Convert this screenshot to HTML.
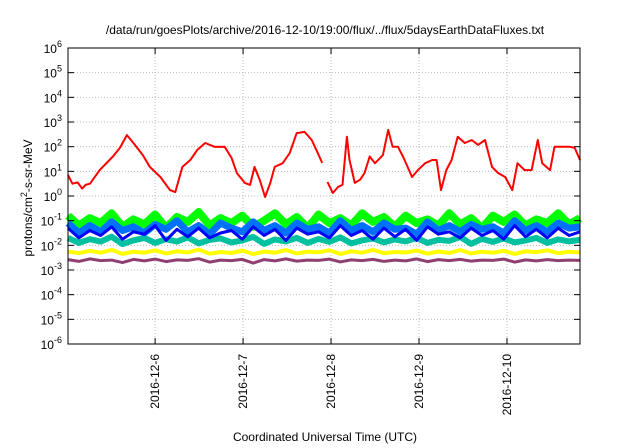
<!DOCTYPE html>
<html><head><meta charset="utf-8"><style>
body{margin:0;background:#fff}
svg{font-family:"Liberation Sans",sans-serif;display:block}
</style></head><body>
<svg id="chart" width="640" height="448">
<text x="325" y="34" font-size="12" text-anchor="middle" fill="#000">/data/run/goesPlots/archive/2016-12-10/19:00/flux/../flux/5daysEarthDataFluxes.txt</text>
<g id="grid"></g>
<g id="series"></g>
<rect x="68" y="48" width="512" height="296" fill="none" stroke="#000" stroke-width="1"/>
<g id="axes"></g>
<text transform="translate(32,198) rotate(-90)" font-size="12" text-anchor="middle">protons/cm<tspan dy="-5" font-size="9">2</tspan><tspan dy="5">-s-sr-MeV</tspan></text>
<text x="325" y="441" font-size="12" text-anchor="middle">Coordinated Universal Time (UTC)</text>
</svg>
<script>
const xTickDays=[1,2,3,4,5];
const xTickLabels=["2016-12-6","2016-12-7","2016-12-8","2016-12-9","2016-12-10"];
const yTickExps=[-6,-5,-4,-3,-2,-1,0,1,2,3,4,5,6];
const redDays=[0.01,0.06,0.12,0.17,0.21,0.26,0.37,0.52,0.60,0.68,0.77,0.86,0.94,1.06,1.17,1.23,1.31,1.40,1.48,1.57,1.68,1.79,1.87,1.93,2.02,2.08,2.13,2.19,2.25,2.31,2.36,2.45,2.53,2.61,2.70,2.78,2.85,2.90,null,2.96,3.02,3.08,3.13,3.18,3.21,3.27,3.33,3.38,3.44,3.50,3.59,3.65,3.70,3.76,3.82,3.87,3.92,3.99,4.07,4.15,4.20,4.25,4.31,4.37,4.44,4.52,4.60,4.67,4.75,4.83,4.90,4.98,5.06,5.12,5.20,5.28,5.35,5.40,5.49,5.54,5.62,5.71,5.77,5.83];
const redLog10=[0.85,0.5,0.55,0.3,0.45,0.5,1.05,1.6,1.95,2.47,2.07,1.66,1.18,0.77,0.24,0.16,1.18,1.46,1.87,2.15,1.99,2.0,1.54,0.93,0.53,0.45,1.18,0.65,-0.04,0.53,1.18,1.33,1.74,2.55,2.6,2.27,1.74,1.34,null,0.57,0.12,0.37,0.45,2.4,1.46,0.53,0.66,0.93,1.6,1.33,1.66,2.68,2.0,2.0,1.58,1.18,0.77,1.06,1.33,1.46,1.46,0.24,1.05,1.46,2.4,2.15,2.27,2.07,2.27,1.18,0.93,0.77,0.24,1.33,1.05,1.05,2.27,1.33,1.05,2.0,2.0,2.0,1.95,1.46];
const greenLog10=[-0.8,-1.2,-0.9,-1.1,-0.7,-1.25,-0.95,-1.15,-0.75,-1.3,-0.85,-1.05,-0.65,-1.2,-0.9,-1.1,-0.8,-1.25,-1.0,-0.7,-1.15,-0.85,-1.3,-0.75,-1.1,-0.9,-1.2,-0.7,-1.05,-0.85,-1.25,-0.8,-1.1,-0.95,-1.2,-0.7,-1.15,-0.9,-1.3,-0.8,-1.05,-0.75,-1.2,-0.95,-1.1,-0.7,-1.15,-0.9];
const lightBlueLog10=[-1.1,-1.5,-1.2,-1.45,-1.05,-1.4,-1.25,-1.5,-1.15,-1.35,-1.0,-1.45,-1.2,-1.55,-1.1,-1.3,-1.45,-1.05,-1.4,-1.2,-1.5,-1.1,-1.35,-1.25,-1.5,-1.0,-1.4,-1.2,-1.45,-1.1,-1.35,-1.3,-1.55,-1.05,-1.4,-1.2,-1.45,-1.15,-1.35,-1.25,-1.5,-1.0,-1.4,-1.2,-1.45,-1.1,-1.3,-1.25];
const blueLog10=[-1.3,-1.7,-1.4,-1.6,-1.25,-1.75,-1.45,-1.55,-1.2,-1.8,-1.35,-1.65,-1.3,-1.7,-1.5,-1.4,-1.75,-1.25,-1.6,-1.35,-1.8,-1.3,-1.55,-1.45,-1.7,-1.2,-1.6,-1.4,-1.75,-1.3,-1.65,-1.35,-1.8,-1.25,-1.55,-1.45,-1.7,-1.3,-1.6,-1.4,-1.75,-1.2,-1.65,-1.35,-1.7,-1.3,-1.6,-1.45];
const tealLog10=[-1.7,-1.9,-1.75,-1.85,-1.65,-1.95,-1.8,-1.7,-1.9,-1.75,-1.85,-1.68,-1.92,-1.78,-1.72,-1.88,-1.8,-1.66,-1.94,-1.76,-1.84,-1.7,-1.9,-1.74,-1.86,-1.68,-1.92,-1.8,-1.72,-1.88,-1.76,-1.84,-1.7,-1.9,-1.78,-1.82,-1.66,-1.94,-1.74,-1.86,-1.72,-1.88,-1.8,-1.7,-1.9,-1.76,-1.84,-1.78];
const yellowLog10=[-2.25,-2.32,-2.22,-2.3,-2.18,-2.35,-2.26,-2.3,-2.2,-2.33,-2.24,-2.29,-2.17,-2.34,-2.27,-2.31,-2.21,-2.36,-2.25,-2.3,-2.19,-2.33,-2.26,-2.28,-2.2,-2.35,-2.24,-2.3,-2.18,-2.32,-2.27,-2.29,-2.21,-2.34,-2.25,-2.31,-2.19,-2.33,-2.26,-2.3,-2.22,-2.35,-2.24,-2.28,-2.2,-2.32,-2.26,-2.29];
const purpleLog10=[-2.58,-2.65,-2.55,-2.62,-2.6,-2.7,-2.57,-2.63,-2.56,-2.66,-2.59,-2.61,-2.54,-2.68,-2.6,-2.62,-2.57,-2.72,-2.58,-2.63,-2.55,-2.64,-2.6,-2.61,-2.56,-2.67,-2.59,-2.62,-2.57,-2.65,-2.6,-2.63,-2.55,-2.66,-2.58,-2.62,-2.57,-2.64,-2.6,-2.61,-2.56,-2.68,-2.59,-2.63,-2.58,-2.62,-2.6,-2.61];

const NS="http://www.w3.org/2000/svg";
const X0=68,X1=580,Y0=344,Y1=48,D0=0.01,D1=5.83;
function xs(d){return X0+(d-D0)/(D1-D0)*(X1-X0);}
function ys(l){return Y0-(l+6)/12*(Y0-Y1);}
function mk(tag,attrs,parent){const e=document.createElementNS(NS,tag);for(const k in attrs)e.setAttribute(k,attrs[k]);parent.appendChild(e);return e;}
const grid=document.getElementById('grid'),axes=document.getElementById('axes'),ser=document.getElementById('series');
yTickExps.forEach(e=>{
  const y=ys(e);
  if(e>-6&&e<6){const g=mk('line',{x1:X0,x2:X1,y1:y,y2:y,stroke:'#bbb','stroke-dasharray':'1,2','stroke-width':1},grid);
  
  }
  const t1=mk('line',{x1:X0,x2:X0+6,y1:y,y2:y,stroke:'#000'},axes);
  
  
  const t2=mk('line',{x1:X1-6,x2:X1,y1:y,y2:y,stroke:'#000'},axes);
  
  
  const tx=mk('text',{x:X0-6,y:y+5,'font-size':12,'text-anchor':'end'},axes);
  
  
  tx.innerHTML='10<tspan dy="-6" font-size="9">'+e+'</tspan>';
});
xTickDays.forEach((d,i)=>{
  const x=xs(d);
  const g=mk('line',{x1:x,x2:x,y1:Y1,y2:Y0,stroke:'#bbb','stroke-dasharray':'1,2'},grid);
  
  
  const t1=mk('line',{x1:x,x2:x,y1:Y0-6,y2:Y0,stroke:'#000'},axes);
  
  
  const t2=mk('line',{x1:x,x2:x,y1:Y1,y2:Y1+6,stroke:'#000'},axes);
  
  
  const tx=mk('text',{transform:'translate('+(x+4)+','+(Y0+10)+') rotate(-90)','font-size':12,'text-anchor':'end'},axes);
  
  
  tx.textContent=xTickLabels[i];
});
function noise(arr,color,w,name){
  const n=arr.length;let p='';
  arr.forEach((v,i)=>{const d=D0+(D1-D0)*i/(n-1);p+=(i?'L':'M')+xs(d).toFixed(1)+','+ys(v).toFixed(1);});
  const e=mk('path',{d:p,fill:'none',stroke:color,'stroke-width':w,'stroke-linejoin':'round'},ser);
  
  
}
noise(greenLog10,'#00ff00',8,'series-green');
noise(tealLog10,'#00c0a0',6,'series-teal');
noise(lightBlueLog10,'#0070ff',7,'series-light-blue');
noise(blueLog10,'#0000ff',3,'series-blue');
noise(yellowLog10,'#ffff00',4,'series-yellow');
noise(purpleLog10,'#904070',3,'series-purple');
let rp='',pen=false;
redDays.forEach((d,i)=>{
  if(d===null||redLog10[i]===null){pen=false;return;}
  rp+=(pen?'L':'M')+xs(d).toFixed(1)+','+ys(redLog10[i]).toFixed(1);pen=true;
});
const red=mk('path',{d:rp,fill:'none',stroke:'#ff0000','stroke-width':2,'stroke-linejoin':'round'},ser);


</script>
</body></html>
